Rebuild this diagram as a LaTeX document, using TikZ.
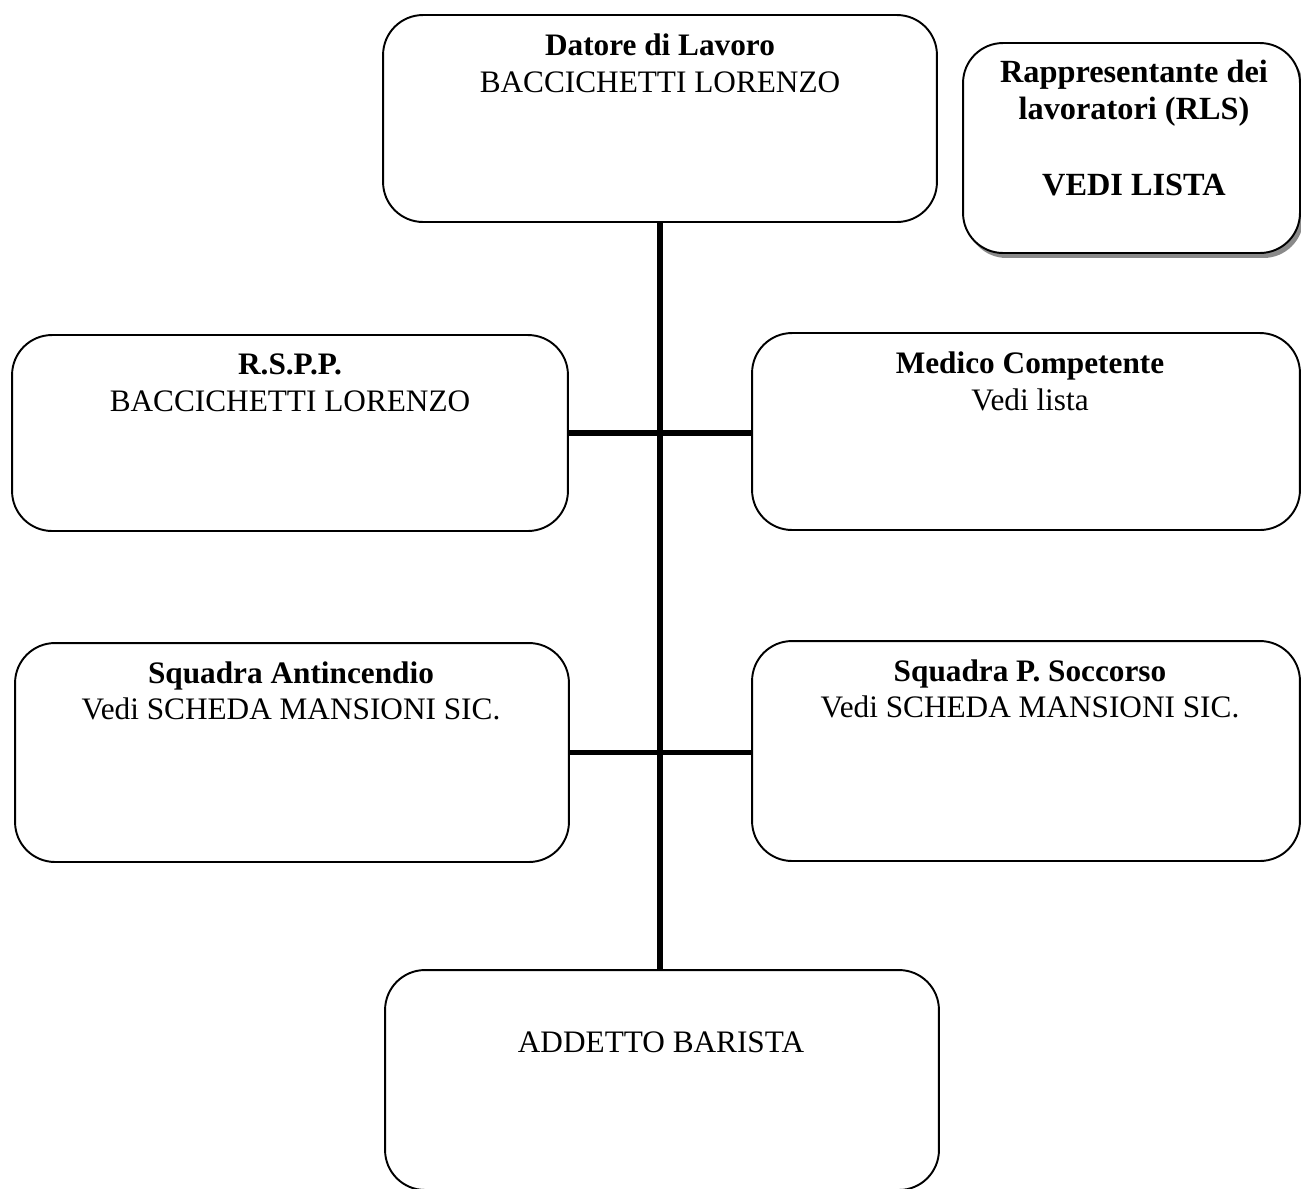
\documentclass[tikz,border=0pt]{standalone}
\usepackage{fontspec}
\setmainfont{Liberation Serif}
\usetikzlibrary{shadows}
\definecolor{ShadowGrey}{HTML}{8A8A8A}

\tikzset{
  box/.style={draw, line width=1.1pt, rounded corners=0.8cm, inner sep=0pt},
  txt/.style={anchor=base, align=center, inner sep=0pt,
    font=\fontsize{17.8}{20.5}\selectfont},
  link/.style={line width=2.9pt}
}

\begin{document}
\begin{tikzpicture}[x=0.02cm, y=-0.02cm]
      \useasboundingbox (0,0) rectangle (1301,1188);
      % Boxes
      \node[box, minimum width=11.08cm, minimum height=4.14cm] (datore) at (660,118.5) {};
      \node[box, minimum width=6.74cm, minimum height=4.2cm, fill=white,
        drop shadow={shadow xshift=0.07cm, shadow yshift=-0.1cm, fill=ShadowGrey, opacity=1}]
        (rls) at (1131.5,148) {};
      \node[box, minimum width=11.12cm, minimum height=3.92cm] (rspp) at (290,433) {};
      \node[box, minimum width=10.96cm, minimum height=3.94cm] (medico) at (1026,431.5) {};
      \node[box, minimum width=11.08cm, minimum height=4.38cm] (antinc) at (292,752.5) {};
      \node[box, minimum width=10.96cm, minimum height=4.4cm] (soccorso) at (1026,751) {};
      \node[box, minimum width=11.08cm, minimum height=4.4cm] (addetto) at (662,1080) {};
      % Texts (base = last line)
      \node[txt] (datoreTxt) at (660,92) {\textbf{Datore di Lavoro}\\BACCICHETTI LORENZO};
      \node[txt, font=\fontsize{18.4}{20.5}\selectfont] (rlsTxt) at (1134,195)
        {\textbf{Rappresentante dei}\\\textbf{lavoratori (RLS)}\\[0.8cm]\textbf{VEDI LISTA}};
      \node[txt] (rsppTxt) at (290,411) {\textbf{R.S.P.P.}\\BACCICHETTI LORENZO};
      \node[txt] (medicoTxt) at (1030,410) {\textbf{Medico Competente}\\Vedi lista};
      \node[txt] (antincTxt) at (291,719) {\textbf{Squadra Antincendio}\\Vedi SCHEDA MANSIONI SIC.};
      \node[txt] (soccorsoTxt) at (1030,717) {\textbf{Squadra P. Soccorso}\\Vedi SCHEDA MANSIONI SIC.};
      \node[txt] (addettoTxt) at (661,1052) {ADDETTO BARISTA};
      % Connectors
      \draw[link] (datore.south) -- (datore.south |- addetto.north);
      \draw[link] (rspp.east) -- (rspp.east -| medico.west);
      \draw[link] (antinc.east) -- (antinc.east -| soccorso.west);
\end{tikzpicture}
\end{document}
